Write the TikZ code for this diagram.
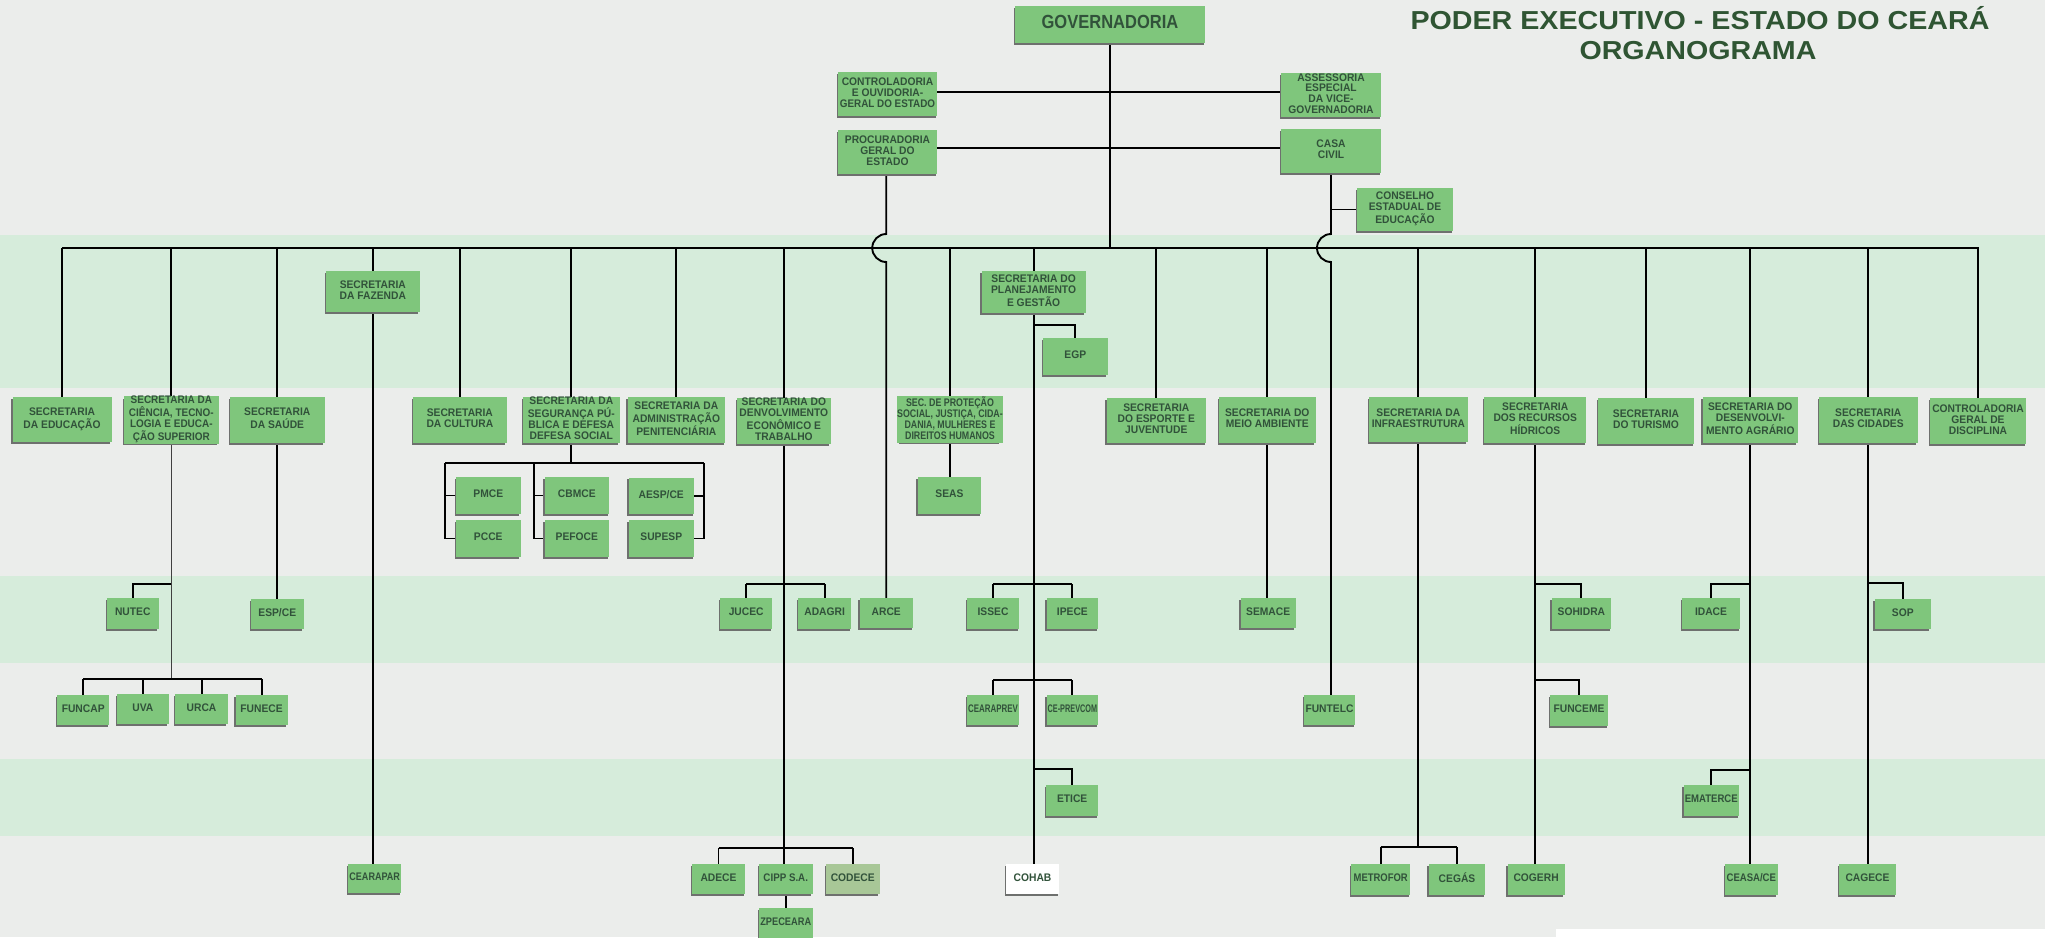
\documentclass[tikz,border=0pt]{standalone}
\usepackage{fontspec}
\setmainfont{Liberation Sans}
\usepackage{graphicx}
\definecolor{bgc}{HTML}{EBEDEB}
\definecolor{bandc}{HTML}{D6ECDB}
\definecolor{boxc}{HTML}{7FC67C}
\definecolor{shc}{HTML}{6E706E}
\definecolor{txc}{HTML}{31523A}
\definecolor{tic}{HTML}{2F5533}
\definecolor{codc}{HTML}{A8C797}
\newcommand\sx[2]{\scalebox{#1}[1]{#2}}
\newcommand\boxfont{\bfseries\fontsize{11}{11.1}\selectfont}
\newcommand\tightfont{\bfseries\fontsize{11}{10.5}\selectfont}
\newcommand\govfont{\bfseries\fontsize{19}{22}\selectfont}
\newcommand\B[7][]{%
  \pgfmathsetmacro\bw{#5-#3}\pgfmathsetmacro\bh{#6-#4}%
  \fill[shc] ({#3-1.5},{#4+1.5}) rectangle ({#5-1.5},{#6+1.5});
  \node[box,minimum width=\bw pt,minimum height=\bh pt,#1] (#2) at ({(#3+#5)/2},{(#4+#6)/2}) {\scalebox{0.935}[1]{\begin{tabular}{@{}c@{}}#7\end{tabular}}};}
\pgfdeclarelayer{back}\pgfdeclarelayer{lines}
\pgfsetlayers{back,lines,main}
\begin{document}
\begin{tikzpicture}[x=1pt,y=-1pt,
  box/.style={fill=boxc,inner sep=0pt,text=txc,font=\boxfont},
  conn/.style={line width=1.9pt,black}]
\useasboundingbox (0,0) rectangle (2045,937);
\begin{pgfonlayer}{back}
\fill[bgc] (0,0) rectangle (2045,937);
\fill[bandc] (0,235) rectangle (2045,388);
\fill[bandc] (0,576) rectangle (2045,663);
\fill[bandc] (0,759) rectangle (2045,836);
\fill[white] (1556,929) rectangle (2045,937);
\end{pgfonlayer}
% title
\node[anchor=base,inner sep=0pt,text=tic,font=\bfseries\fontsize{26}{30}\selectfont] (t1) at (1700,29.3) {\resizebox{579pt}{\height}{PODER EXECUTIVO - ESTADO DO CEARÁ}};
\node[anchor=base,inner sep=0pt,text=tic,font=\bfseries\fontsize{26}{30}\selectfont] (t2) at (1698,59.3) {\resizebox{237pt}{\height}{ORGANOGRAMA}};
% top
\B[font=\govfont]{gov}{1015}{6}{1205}{43}{\sx{0.93}{GOVERNADORIA}}
\B{ctrl}{838}{72}{937}{116}{CONTROLADORIA\\E OUVIDORIA-\\\sx{0.96}{GERAL DO ESTADO}}
\B[font=\tightfont]{asse}{1281}{73}{1381}{117}{ASSESSORIA\\ESPECIAL\\DA VICE-\\GOVERNADORIA}
\B{proc}{838}{130}{937}{174}{PROCURADORIA\\GERAL DO\\ESTADO}
\B{casa}{1281}{129}{1381}{173}{CASA\\CIVIL}
\B{cons}{1357}{188}{1453}{231}{CONSELHO\\ESTADUAL DE\\EDUCAÇÃO}
% secretarias
\B{edu}{12.5}{397}{111.6}{442}{SECRETARIA\\DA EDUCAÇÃO}
\B{cien}{124}{397}{218.7}{443}{\sx{0.97}{\begin{tabular}{@{}c@{}}SECRETARIA DA\\CIÊNCIA, TECNO-\\LOGIA E EDUCA-\\ÇÃO SUPERIOR\end{tabular}}}
\B{sau}{230}{397}{324.5}{443}{SECRETARIA\\DA SAÚDE}
\B{faz}{326}{271}{419.6}{312}{SECRETARIA\\DA FAZENDA}
\B{cul}{413}{397}{506.7}{443}{SECRETARIA\\DA CULTURA}
\B{seg}{523}{397}{619.6}{443}{SECRETARIA DA\\SEGURANÇA PÚ-\\BLICA E DEFESA\\DEFESA SOCIAL}
\B{adm}{627.6}{397}{725}{443}{SECRETARIA DA\\ADMINISTRAÇÃO\\PENITENCIÁRIA}
\B{dec}{737}{398}{830.7}{444}{SECRETARIA DO\\DENVOLVIMENTO\\ECONÔMICO E\\TRABALHO}
\B{pro}{900}{397}{1000}{442}{\sx{0.86}{\begin{tabular}{@{}c@{}}SEC. DE PROTEÇÃO\\SOCIAL, JUSTIÇA, CIDA-\\DANIA, MULHERES E\\DIREITOS HUMANOS\end{tabular}}}
\B{pla}{981.6}{271}{1085.6}{313}{SECRETARIA DO\\PLANEJAMENTO\\E GESTÃO}
\B{egp}{1043}{338}{1107.5}{375}{EGP}
\B{esp}{1106.6}{398}{1206}{443}{SECRETARIA\\DO ESPORTE E\\JUVENTUDE}
\B{mei}{1219}{397}{1315.5}{443}{SECRETARIA DO\\MEIO AMBIENTE}
\B{inf}{1369}{397}{1467.7}{442}{SECRETARIA DA\\\sx{0.98}{INFRAESTRUTURA}}
\B{rec}{1484}{397}{1586.4}{443}{SECRETARIA\\DOS RECURSOS\\HÍDRICOS}
\B{tur}{1598}{398}{1694}{444}{SECRETARIA\\DO TURISMO}
\B{agr}{1702.8}{397}{1797.8}{443}{SECRETARIA DO\\DESENVOLVI-\\MENTO AGRÁRIO}
\B{cid}{1819}{397}{1917.5}{443}{SECRETARIA\\DAS CIDADES}
\B{dis}{1930}{398}{2026}{444}{CONTROLADORIA\\GERAL DE\\DISCIPLINA}
% children
\B{pmce}{456}{477}{520.5}{514}{PMCE}
\B{pcce}{456}{520}{520.5}{557}{PCCE}
\B{cbmce}{544.6}{477}{609}{514}{CBMCE}
\B{pefoce}{544.6}{520}{609}{557}{PEFOCE}
\B{aesp}{628.5}{477.7}{694}{514}{AESP/CE}
\B{supesp}{628.5}{520}{694}{557}{SUPESP}
\B{seas}{917.5}{477}{981.3}{514}{SEAS}
\B{nutec}{107}{598}{158.5}{629}{NUTEC}
\B{espce}{251}{599}{303.5}{629}{ESP/CE}
\B{jucec}{720}{598}{772.4}{629}{JUCEC}
\B{adagri}{798.3}{598}{851}{629}{ADAGRI}
\B{arce}{859.5}{598}{913}{628}{ARCE}
\B{issec}{967}{598}{1019}{629}{ISSEC}
\B{ipece}{1046.5}{598}{1098.3}{629}{IPECE}
\B{semace}{1240.7}{598}{1295.6}{628}{SEMACE}
\B{sohidra}{1551.8}{598}{1611}{629}{SOHIDRA}
\B{idace}{1682}{598}{1740}{629}{IDACE}
\B{sop}{1874.8}{599}{1930.8}{629}{SOP}
\B{funcap}{57}{695}{109.4}{725}{FUNCAP}
\B{uva}{117}{694}{168.7}{724}{UVA}
\B{urca}{175.4}{694}{227.7}{724}{URCA}
\B{funece}{235.7}{695}{287.5}{725}{FUNECE}
\B{cearaprev}{967}{695}{1019}{725}{\sx{0.77}{CEARAPREV}}
\B{ceprev}{1046.5}{695}{1098.3}{725}{\sx{0.71}{CE-PREVCOM}}
\B{funtelc}{1304}{695}{1355}{725}{FUNTELC}
\B{funceme}{1550}{695}{1608}{726}{FUNCEME}
\B{etice}{1046}{785}{1098.4}{816}{ETICE}
\B{ematerce}{1683.5}{785}{1739}{816}{\sx{0.93}{EMATERCE}}
\B{cearapar}{348}{864}{401.4}{893}{\sx{0.88}{CEARAPAR}}
\B{adece}{692}{864}{745}{894}{ADECE}
\B{cipp}{759}{864}{812.5}{894}{\sx{0.95}{CIPP S.A.}}
\B[fill=codc]{codece}{826}{864}{879.5}{894}{CODECE}
\B[fill=white]{cohab}{1006}{864}{1059}{894}{COHAB}
\B{metrofor}{1351.4}{864}{1410}{895}{\sx{0.92}{METROFOR}}
\B{cegas}{1428.6}{864}{1485.4}{895}{CEGÁS}
\B{cogerh}{1507.7}{864}{1564.5}{895}{COGERH}
\B{ceasa}{1725}{864}{1777.6}{895}{\sx{0.93}{CEASA/CE}}
\B{cagece}{1839}{864}{1896}{895}{CAGECE}
\B{zpe}{759}{908}{812.5}{938}{\sx{0.9}{ZPECEARA}}
% connectors
\begin{pgfonlayer}{lines}
\coordinate (busL) at (62,248);
\coordinate (busR) at (1979,248);
\draw[conn] (busL) -- (busR);
\draw[conn] (gov.south) -- (gov.south |- busL);
\draw[conn] (ctrl.east |- 0,92) -- (asse.west |- 0,92);
\draw[conn] (proc.east |- 0,148) -- (casa.west |- 0,148);
\draw[conn] (proc.south -| arce.north) -- (arce.north |- 0,234) arc[start angle=270,end angle=90,radius=14] -- (arce.north);
\draw[conn] (casa.south) -- (casa.south |- 0,234) arc[start angle=270,end angle=90,radius=14] -- (casa.south |- funtelc.north);
\draw[conn] (casa.south |- cons.west) -- (cons.west);
\foreach \n in {edu,cien,sau,faz,cul,seg,adm,dec,pro,pla,esp,mei,inf,rec,tur,agr,cid,dis}
  {\draw[conn] (\n.north |- busL) -- (\n.north);}
% fazenda
\draw[conn] (faz.south) -- (faz.south |- cearapar.north);
% ciencia
\draw[conn,line width=1.5pt,black!75] (cien.south) -- (cien.south |- 0,679);
\draw[conn] (cien.south |- 0,584) -| (nutec.north);
\draw[conn] (funcap.north |- 0,679) -- (funece.north |- 0,679);
\foreach \n in {funcap,uva,urca,funece} {\draw[conn] (\n.north |- 0,679) -- (\n.north);}
% saude
\draw[conn] (sau.south) -- (sau.south |- espce.north);
% seguranca
\draw[conn] (seg.south) -- (seg.south |- 0,463);
\draw[conn] (445,463) -- (704,463);
\draw[conn] (445,463) |- (pcce.west);
\draw[conn] (pmce.west -| 445,0) -- (pmce.west);
\draw[conn] (534,463) |- (pefoce.west);
\draw[conn] (cbmce.west -| 534,0) -- (cbmce.west);
\draw[conn] (704,463) |- (supesp.east);
\draw[conn] (aesp.east -| 704,0) -- (aesp.east);
% desenvolvimento economico
\draw[conn] (dec.south) -- (dec.south |- cipp.north);
\draw[conn] (jucec.north |- 0,584) -- (adagri.north |- 0,584);
\draw[conn] (jucec.north |- 0,584) -- (jucec.north);
\draw[conn] (adagri.north |- 0,584) -- (adagri.north);
\draw[conn] (adece.north |- 0,848) -- (codece.north |- 0,848);
\draw[conn] (adece.north |- 0,848) -- (adece.north);
\draw[conn] (codece.north |- 0,848) -- (codece.north);
\draw[conn] (cipp.south) -- (zpe.north);
% protecao social
\draw[conn] (pro.south) -- (pro.south |- seas.north);
% planejamento
\draw[conn] (pla.south) -- (pla.south |- cohab.north);
\draw[conn] (pla.south |- 0,325) -| (egp.north);
\draw[conn] (issec.north |- 0,584) -- (ipece.north |- 0,584);
\draw[conn] (issec.north |- 0,584) -- (issec.north);
\draw[conn] (ipece.north |- 0,584) -- (ipece.north);
\draw[conn] (cearaprev.north |- 0,680) -- (ceprev.north |- 0,680);
\draw[conn] (cearaprev.north |- 0,680) -- (cearaprev.north);
\draw[conn] (ceprev.north |- 0,680) -- (ceprev.north);
\draw[conn] (pla.south |- 0,769) -| (etice.north);
% meio ambiente
\draw[conn] (mei.south) -- (mei.south |- semace.north);
% infraestrutura
\draw[conn] (inf.south) -- (inf.south |- 0,847);
\draw[conn] (metrofor.north |- 0,847) -- (cegas.north |- 0,847);
\draw[conn] (metrofor.north |- 0,847) -- (metrofor.north);
\draw[conn] (cegas.north |- 0,847) -- (cegas.north);
% recursos hidricos
\draw[conn] (rec.south) -- (rec.south |- cogerh.north);
\draw[conn] (rec.south |- 0,584) -| (sohidra.north);
\draw[conn] (rec.south |- 0,680) -| (funceme.north);
% agrario
\draw[conn] (agr.south) -- (agr.south |- ceasa.north);
\draw[conn] (agr.south |- 0,584) -| (idace.north);
\draw[conn] (agr.south |- 0,770) -| (ematerce.north);
% cidades
\draw[conn] (cid.south) -- (cid.south |- cagece.north);
\draw[conn] (cid.south |- 0,583) -| (sop.north);
\end{pgfonlayer}
\end{tikzpicture}
\end{document}
